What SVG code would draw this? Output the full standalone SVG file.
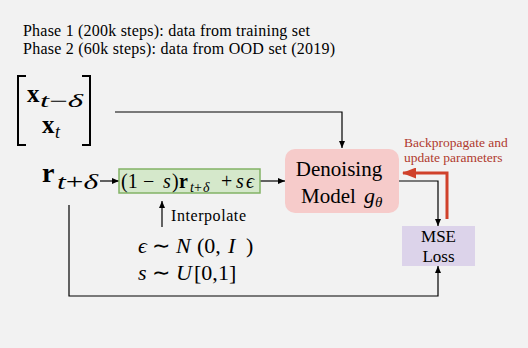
<svg xmlns="http://www.w3.org/2000/svg" width="528" height="348" viewBox="0 0 528 348" font-family="'Liberation Serif', 'Times New Roman', serif">
<defs>
<marker id="ah" markerUnits="userSpaceOnUse" markerWidth="7" markerHeight="6" refX="7" refY="3" orient="auto"><path d="M0,0 L7,3 L0,6 z" fill="#000"/></marker>
<marker id="ahr" markerUnits="userSpaceOnUse" markerWidth="14" markerHeight="11" refX="13" refY="5.5" orient="auto"><path d="M0,0 L14,5.5 L0,11 z" fill="#d0412b"/></marker>
</defs>
<style>
text{font-family:'Liberation Serif','Times New Roman',serif}
.ph{font-size:16px}
.it{font-style:italic}
.b{font-weight:bold}
.ln{fill:none;stroke:#000;stroke-width:1.2}
.m{font-size:22px}
.red{fill:#b03a2e}
</style>
<rect width="528" height="348" fill="#f2f2f2"/>
<g id="caption" font-family="'Liberation Serif', serif">
<text class="ph" x="23" y="36" textLength="287" lengthAdjust="spacing">Phase 1 (200k steps): data from training set</text>
<text class="ph" x="23" y="54" textLength="312" lengthAdjust="spacing">Phase 2 (60k steps): data from OOD set (2019)</text>
</g>
<g id="connectors">
<path class="ln" d="M115 112 H342 V148" marker-end="url(#ah)"/>
<path class="ln" d="M100 181 H119" marker-end="url(#ah)"/>
<path class="ln" d="M260 181 H285" marker-end="url(#ah)"/>
<path class="ln" d="M399 181 H438 V226" marker-end="url(#ah)"/>
<path class="ln" d="M69 205 V296 H438 V266" marker-end="url(#ah)"/>
<path class="ln" d="M162 227 V201" marker-end="url(#ah)"/>
<path d="M447 219 V173 H403" fill="none" stroke="#d0412b" stroke-width="3" marker-end="url(#ahr)"/>
</g>
<g id="x-input" font-family="'Liberation Serif', serif">
<path d="M26 76 H18 V145 H26 M82 76 H90 V145 H82" fill="none" stroke="#000" stroke-width="2"/>
<text class="b" x="27" y="102" font-size="25">x</text>
<text class="it" x="40" y="107" font-size="18" textLength="43" lengthAdjust="spacingAndGlyphs">t<tspan font-style="normal">−</tspan>δ</text>
<text class="b" x="42" y="133" font-size="25">x</text>
<text class="it" x="55" y="138" font-size="18">t</text>
</g>
<g id="r-input" font-family="'Liberation Serif', serif">
<text class="b" x="42" y="182" font-size="28">r</text>
<text class="it" x="57" y="189" font-size="20" textLength="41" lengthAdjust="spacingAndGlyphs">t<tspan font-style="normal">+</tspan>δ</text>
</g>
<g id="interp" font-family="'Liberation Serif', serif">
<rect x="119" y="169" width="141" height="24" fill="#d5e8cb" stroke="#82b366" stroke-width="1.5"/>
<text font-size="20" y="188"><tspan x="121">(1</tspan><tspan x="143">−</tspan><tspan class="it" x="163">s</tspan><tspan x="172">)</tspan><tspan class="b" x="179">r</tspan><tspan class="it" x="190" y="192" font-size="14">t</tspan><tspan x="194" y="192" font-size="14">+</tspan><tspan class="it" x="203" y="192" font-size="14">δ</tspan><tspan x="221" y="188">+</tspan><tspan class="it" x="236">s</tspan><tspan class="it" x="246">ϵ</tspan></text>
</g>
<g id="interp-label" font-family="'Liberation Serif', serif">
<text class="ph" x="171" y="221" font-size="16.5" textLength="75" lengthAdjust="spacing">Interpolate</text>
</g>
<g id="noise" font-family="'Liberation Serif', serif">
<text class="m" y="253"><tspan class="it" x="138">ϵ</tspan><tspan x="152">∼</tspan><tspan class="it" x="176">N</tspan><tspan x="197">(0,</tspan><tspan class="it" x="228">I</tspan><tspan x="246">)</tspan></text>
<text class="m" y="280"><tspan class="it" x="138">s</tspan><tspan x="152">∼</tspan><tspan class="it" x="176">U</tspan><tspan x="194">[0,</tspan><tspan x="218">1]</tspan></text>
</g>
<g id="denoising" font-family="'Liberation Serif', serif">
<rect x="285" y="149" width="114" height="64" rx="10" fill="#f6cbca"/>
<text x="339" y="176" font-size="21" text-anchor="middle">Denoising</text>
<text x="301" y="203" font-size="21">Model</text>
<text class="it" x="364" y="203" font-size="22">g</text>
<text class="it" x="375" y="207" font-size="15">θ</text>
</g>
<g id="mse" font-family="'Liberation Serif', serif">
<rect x="402" y="226" width="73" height="40" fill="#dcd3ea"/>
<text x="438.5" y="242" font-size="17" text-anchor="middle">MSE</text>
<text x="438.5" y="262" font-size="17" text-anchor="middle">Loss</text>
</g>
<g id="backprop-label" font-family="'Liberation Serif', serif">
<text class="red" x="404" y="147" font-size="13.5">Backpropagate and</text>
<text class="red" x="404" y="162" font-size="13.5">update parameters</text>
</g>
</svg>
